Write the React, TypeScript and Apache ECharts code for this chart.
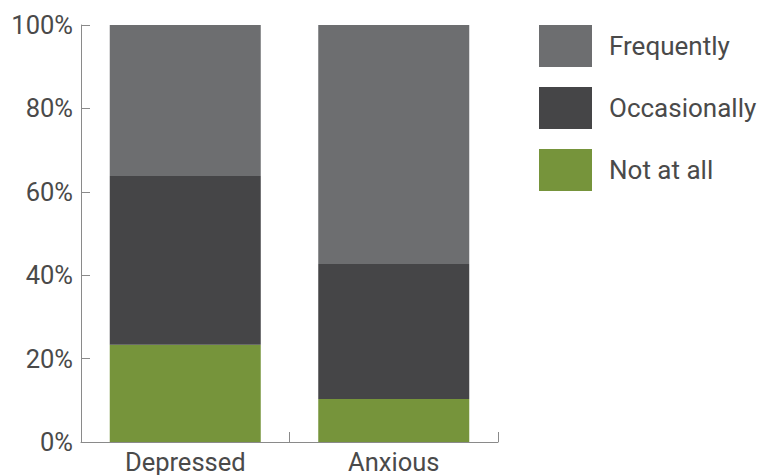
import React, { useEffect, useRef } from "react";
import * as echarts from "echarts";

const categories = ["Depressed", "Anxious"];
const notAtAll = [23.3, 10.3];
const occasionally = [40.5, 32.4];
const frequently = [36.2, 57.3];
const legendNames = ["Frequently", "Occasionally", "Not at all"];

const TEXT = "#4a4a4a";
const AXIS = "#8a8a8a";
const FONT = "Roboto";
const FS = 25.5;

export default function App() {
  const ref = useRef<HTMLDivElement>(null);
  useEffect(() => {
    if (!ref.current) return;
    const chart = echarts.init(ref.current, undefined, { renderer: "svg" });
    const barStyle = (name: string, data: number[], color: string) => ({
      name,
      type: "bar",
      stack: "total",
      data,
      barWidth: 151,
      itemStyle: { color },
      emphasis: { disabled: true },
    });
    chart.setOption({
      animation: false,
      textStyle: { fontFamily: FONT },
      grid: { left: 81, right: 264, top: 25, bottom: 33, containLabel: false },
      legend: {
        orient: "vertical",
        left: 539,
        top: 25,
        padding: 0,
        itemWidth: 53,
        itemHeight: 42,
        itemGap: 20,
        icon: "rect",
        data: legendNames,
        textStyle: { fontSize: 26, color: TEXT, fontFamily: FONT, padding: [0, 0, 4, 12] },
      },
      xAxis: {
        type: "category",
        data: categories,
        boundaryGap: true,
        axisLine: { lineStyle: { color: AXIS, width: 1 } },
        axisTick: { show: true, inside: true, length: 10, lineStyle: { color: AXIS } },
        axisLabel: { fontSize: FS, color: TEXT, fontFamily: FONT, margin: 7 },
      },
      yAxis: {
        type: "value",
        min: 0,
        max: 100,
        interval: 20,
        splitLine: { show: false },
        axisLine: { show: true, lineStyle: { color: AXIS, width: 1 } },
        axisTick: { show: true, inside: true, length: 9, lineStyle: { color: AXIS } },
        axisLabel: { fontSize: FS, color: TEXT, fontFamily: FONT, margin: 8, formatter: "{value}%" },
      },
      series: [
        barStyle("Not at all", notAtAll, "#76943b"),
        barStyle("Occasionally", occasionally, "#454547"),
        barStyle("Frequently", frequently, "#6d6e70"),
      ],
    });
    return () => chart.dispose();
  }, []);
  return <div ref={ref} style={{ width: 762, height: 475, position: "absolute", left: 0, top: 0 }} />;
}
